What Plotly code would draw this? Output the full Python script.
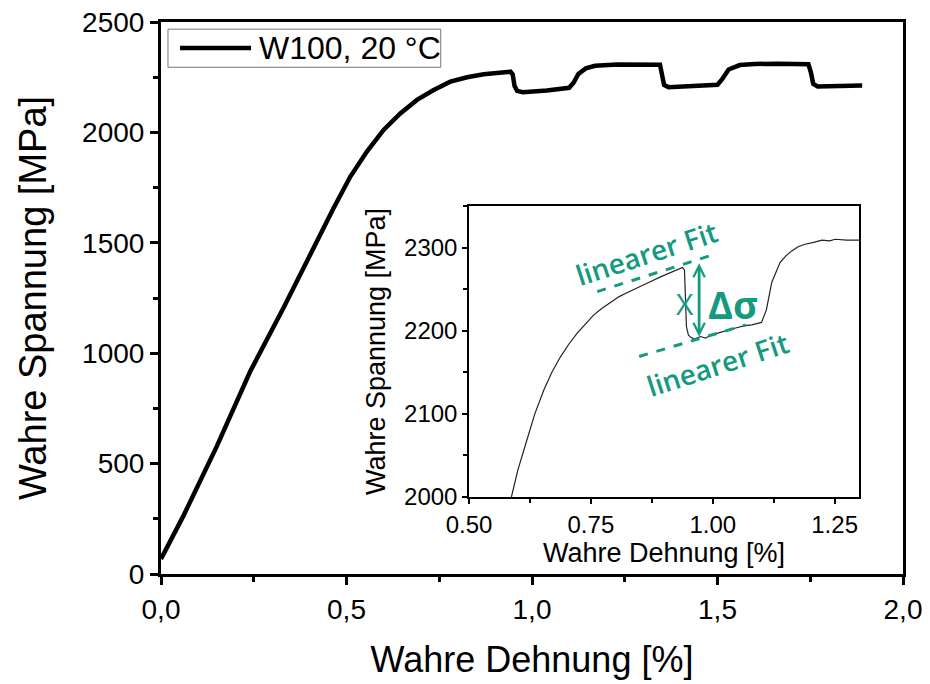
import plotly.graph_objects as go

# ---------------- data ----------------
main_strain = [0.0, 0.06, 0.15, 0.24, 0.33, 0.375, 0.42, 0.465, 0.51, 0.555, 0.60,
               0.645, 0.69, 0.735, 0.78, 0.825, 0.87, 0.942, 0.948, 0.953, 0.960,
               0.975, 1.04, 1.10, 1.112, 1.125, 1.145, 1.17, 1.23, 1.30, 1.345, 1.350,
               1.356, 1.368, 1.44, 1.50, 1.512, 1.53, 1.56, 1.60, 1.66, 1.745, 1.752,
               1.758, 1.770, 1.83, 1.89]
main_stress = [68, 262, 577, 916, 1205, 1354, 1513, 1656, 1799, 1913, 2011,
               2086, 2147, 2192, 2230, 2250, 2263, 2275, 2262, 2210, 2188,
               2182, 2190, 2202, 2225, 2265, 2290, 2302, 2307, 2308, 2306, 2265,
               2215, 2205, 2210, 2216, 2240, 2285, 2305, 2310, 2311, 2309, 2270,
               2220, 2208, 2210, 2212]

inset_strain = [0.587, 0.600, 0.618, 0.635, 0.653, 0.670, 0.687, 0.705, 0.722, 0.740,
                0.756, 0.773, 0.790, 0.808, 0.825, 0.842, 0.859, 0.876, 0.894, 0.915,
                0.938, 0.942, 0.944, 0.946, 0.950, 0.955, 0.962, 0.975, 0.985, 0.997,
                1.010, 1.031, 1.045, 1.066, 1.080, 1.100, 1.110, 1.121, 1.130, 1.138,
                1.150, 1.162, 1.175, 1.189, 1.205, 1.224, 1.240, 1.251, 1.275, 1.30]
inset_stress = [2000, 2032, 2067, 2100, 2128, 2150, 2168, 2184, 2197, 2209,
                2219, 2227, 2234, 2241, 2246, 2251, 2256, 2260, 2265, 2270,
                2276, 2273, 2240, 2205, 2195, 2192, 2190, 2193, 2191, 2195,
                2197, 2201, 2203, 2206, 2207, 2210, 2225, 2258, 2272, 2282,
                2290, 2296, 2301, 2304, 2306, 2309, 2308, 2310, 2309, 2309]

main_xticks = [0.0, 0.5, 1.0, 1.5, 2.0]
main_xticktext = ["0,0", "0,5", "1,0", "1,5", "2,0"]
main_yticks = [0, 500, 1000, 1500, 2000, 2500]
inset_xticks = [0.50, 0.75, 1.00, 1.25]
inset_xticktext = ["0.50", "0.75", "1.00", "1.25"]
inset_yticks = [2000, 2100, 2200, 2300]

fit_upper_x = [0.763, 0.999]
fit_upper_y = [2247, 2291]
fit_lower_x = [0.849, 1.068]
fit_lower_y = [2169, 2207]

legend_name = "W100, 20 °C"
GREEN = "#159a7f"
FONT = "Liberation Sans, Arial, sans-serif"
AFONT = "Open Sans, Noto Sans, sans-serif"

fig = go.Figure()
fig.add_trace(go.Scatter(x=main_strain, y=main_stress, mode="lines", name=legend_name,
                         showlegend=False,
                         line=dict(color="black", width=4.5), xaxis="x", yaxis="y"))
fig.add_trace(go.Scatter(x=inset_strain, y=inset_stress, mode="lines", showlegend=False,
                         line=dict(color="#222222", width=1.2), xaxis="x2", yaxis="y2"))
fig.add_trace(go.Scatter(x=fit_upper_x, y=fit_upper_y, mode="lines", showlegend=False,
                         line=dict(color=GREEN, width=3, dash="dash"), xaxis="x2", yaxis="y2"))
fig.add_trace(go.Scatter(x=fit_lower_x, y=fit_lower_y, mode="lines", showlegend=False,
                         line=dict(color=GREEN, width=3, dash="dash"), xaxis="x2", yaxis="y2"))

axis_common = dict(showline=True, linecolor="black", mirror=True, showgrid=False,
                   zeroline=False, ticks="outside", tickcolor="black", automargin=False,
                   ticklabeloverflow="allow")

# page body adds an 8 px offset, so the figure is 8 px smaller than the window
fig.update_layout(
    width=922, height=676,
    margin=dict(l=153, r=27, t=14, b=110),
    paper_bgcolor="white", plot_bgcolor="white",
    font=dict(family=FONT, color="black"),
    xaxis=dict(**axis_common, domain=[0, 1], range=[0, 2], linewidth=3, tickwidth=3, ticklen=8,
               tickvals=main_xticks, ticktext=main_xticktext,
               tickfont=dict(size=28),
               minor=dict(dtick=0.25, ticks="outside", ticklen=5, tickwidth=3, tickcolor="black"),
               title=dict(text="Wahre Dehnung [%]", font=dict(size=36), standoff=24)),
    yaxis=dict(**axis_common, domain=[0, 1], range=[0, 2500], linewidth=3, tickwidth=3, ticklen=8,
               tickvals=main_yticks, tickfont=dict(size=28),
               minor=dict(dtick=250, ticks="outside", ticklen=5, tickwidth=3, tickcolor="black"),
               title=dict(text="Wahre Spannung [MPa]", font=dict(size=38), standoff=24)),
    xaxis2=dict(**axis_common, domain=[0.4151, 0.9407], anchor="y2", range=[0.5, 1.3],
                linewidth=1.5, tickwidth=1.5, ticklen=5,
                tickvals=inset_xticks, ticktext=inset_xticktext, tickfont=dict(size=24),
                minor=dict(dtick=0.125, tick0=0.5, ticks="outside", ticklen=4, tickwidth=1.5, tickcolor="black"),
                title=dict(text="Wahre Dehnung [%]", font=dict(size=27), standoff=0)),
    yaxis2=dict(**axis_common, domain=[0.1395, 0.6667], anchor="x2", range=[2000, 2350],
                linewidth=1.5, tickwidth=1.5, ticklen=5,
                tickvals=inset_yticks, tickfont=dict(size=24),
                minor=dict(dtick=50, tick0=2000, ticks="outside", ticklen=4, tickwidth=1.5, tickcolor="black"),
                title=dict(text="Wahre Spannung [MPa]", font=dict(size=27), standoff=11)),
    showlegend=False,
)

# legend (drawn as box + line sample + text, to match the long line sample)
fig.add_shape(type="rect", xref="paper", yref="paper", x0=0.0094, x1=0.377, y0=0.918, y1=0.987,
              line=dict(color="#777777", width=1), fillcolor="white", layer="above")
fig.add_shape(type="line", xref="paper", yref="paper", x0=0.0256, x1=0.1213, y0=0.953, y1=0.953,
              line=dict(color="black", width=4.5), layer="above")
fig.add_annotation(x=0.129, y=0.953, xref="paper", yref="paper", xanchor="left", yanchor="middle",
                   text=legend_name, showarrow=False, font=dict(size=32, color="black"))

# annotations in inset
fig.add_annotation(x=0.865, y=2293, xref="x2", yref="y2", text="linearer Fit", showarrow=False,
                   textangle=-18, font=dict(family=AFONT, size=28, color=GREEN, weight=600))
fig.add_annotation(x=1.01, y=2160, xref="x2", yref="y2", text="linearer Fit", showarrow=False,
                   textangle=-18, font=dict(family=AFONT, size=28, color=GREEN, weight=600))
fig.add_annotation(x=0.944, y=2233, xref="x2", yref="y2", text="X", showarrow=False,
                   font=dict(family=AFONT, size=30, color=GREEN))
fig.add_annotation(x=1.042, y=2232, xref="x2", yref="y2", text="<b>Δσ</b>", showarrow=False,
                   font=dict(family=AFONT, size=38, color=GREEN))
# double arrow
fig.add_annotation(x=0.972, y=2281, ax=0.972, ay=2191, xref="x2", yref="y2",
                   axref="x2", ayref="y2", text="", showarrow=True, arrowhead=5,
                   startarrowhead=5, arrowside="end+start", arrowsize=0.8, startarrowsize=0.8,
                   arrowwidth=2.8, arrowcolor=GREEN)

fig.write_html("out.html")
